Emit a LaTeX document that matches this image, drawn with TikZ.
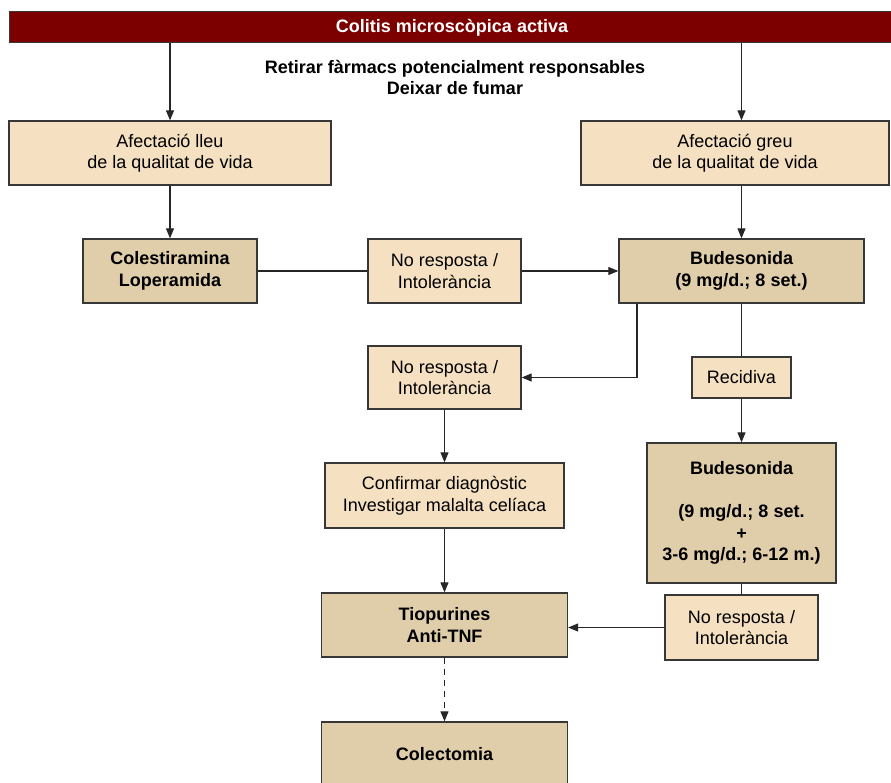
\documentclass[tikz,border=0pt]{standalone}
\usepackage{fontspec}
\setmainfont{Liberation Sans}
\usetikzlibrary{arrows.meta}
\definecolor{barred}{RGB}{125,0,0}
\definecolor{lightbox}{RGB}{245,225,193}
\definecolor{darkbox}{RGB}{224,206,170}
\definecolor{edge}{RGB}{55,55,55}
\begin{document}
\begin{tikzpicture}[x=1pt,y=-1pt,
  base/.style={draw=edge, line width=1.3pt, align=center, inner sep=0pt,
    font=\fontsize{18}{21.5}\selectfont},
  lbox/.style={base, fill=lightbox},
  dbox/.style={base, fill=darkbox, font=\fontsize{18}{21.5}\selectfont\bfseries},
  conn/.style={draw=black!85, line width=1.1pt},
  arr/.style={conn, -{Triangle[length=10pt,width=8pt]}}
]
\clip (0,0) rectangle (891,783);
\fill[white] (0,0) rectangle (891,783);

% top bar
\node[draw=edge, line width=1pt, fill=barred, text=white, inner sep=0pt,
  minimum width=886pt, minimum height=31pt,
  font=\fontsize{18}{21.5}\selectfont\bfseries] (bar) at (452,27.5) {Colitis microscòpica activa};
\node[align=center, font=\fontsize{18}{21.5}\selectfont\bfseries] (note) at (455,77.5)
  {Retirar fàrmacs potencialment responsables\\Deixar de fumar};

% boxes
\node[lbox, minimum width=322pt, minimum height=64pt] (A1) at (170,153) {Afectació lleu\\de la qualitat de vida};
\node[lbox, minimum width=308pt, minimum height=64pt] (A2) at (735,153) {Afectació greu\\de la qualitat de vida};
\node[dbox, minimum width=174pt, minimum height=64pt] (Col) at (170,271) {Colestiramina\\Loperamida};
\node[lbox, minimum width=153pt, minimum height=64pt] (NR1) at (444.5,271) {No resposta /\\Intolerància};
\node[dbox, minimum width=245pt, minimum height=64pt] (Bud) at (741.5,271) {Budesonida\\(9 mg/d.; 8 set.)};
\node[lbox, minimum width=153pt, minimum height=63pt] (NR2) at (444.5,377.5) {No resposta /\\Intolerància};
\node[lbox, minimum width=99pt, minimum height=41pt] (Rec) at (741.5,377.5) {Recidiva};
\node[dbox, minimum width=189pt, minimum height=140pt] (Bud2) at (741.5,513) {Budesonida\\[21.5pt](9 mg/d.; 8 set.\\+\\3-6 mg/d.; 6-12 m.)};
\node[lbox, minimum width=153pt, minimum height=65pt] (NR3) at (741.5,627.5) {No resposta /\\Intolerància};
\node[lbox, minimum width=239pt, minimum height=65pt] (Conf) at (444.5,495.5) {Confirmar diagnòstic\\Investigar malalta celíaca};
\node[dbox, minimum width=246pt, minimum height=64pt] (Tio) at (444.5,625) {Tiopurines\\Anti-TNF};
\node[dbox, minimum width=246pt, minimum height=64pt] (Colec) at (444.5,754) {Colectomia};

\coordinate (split) at (637,303);

% connectors
\draw[arr] (bar.south -| A1.north) -- (A1.north);
\draw[arr] (bar.south -| Bud.north) -- (A2.north -| Bud.north);
\draw[arr] (A1.south -| Col.north) -- (Col.north);
\draw[arr] (A2.south -| Bud.north) -- (Bud.north);
\draw[conn] (Col.east) -- (NR1.west);
\draw[arr] (NR1.east) -- (Bud.west);
\draw[arr] (Bud.south -| split) |- (NR2.east);
\draw[conn] (Bud.south) -- (Rec.north);
\draw[arr] (Rec.south) -- (Bud2.north);
\draw[conn] (Bud2.south) -- (NR3.north);
\draw[arr] (NR3.west) -- (NR3.west -| Tio.east);
\draw[arr] (NR2.south) -- (Conf.north);
\draw[arr] (Conf.south) -- (Tio.north);
\draw[arr, dash pattern=on 6pt off 5pt] (Tio.south) -- (Colec.north);
\end{tikzpicture}
\end{document}
